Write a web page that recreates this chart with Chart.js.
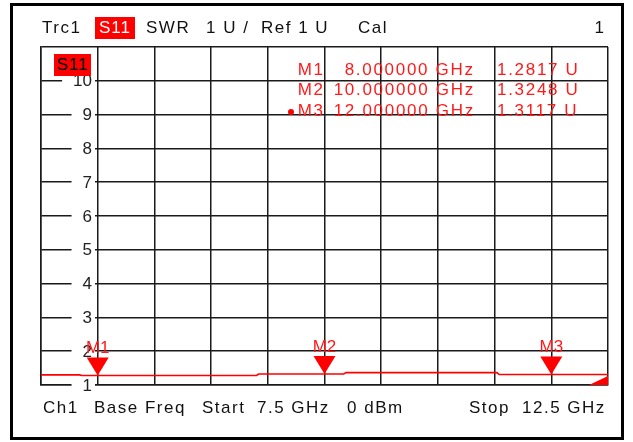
<!DOCTYPE html>
<html>
<head>
<meta charset="utf-8">
<script src="https://cdn.jsdelivr.net/npm/chart.js@4.4.1/dist/chart.umd.min.js"></script>
<style>
  html, body { margin: 0; padding: 0; background: #fff; }
  #wrap { position: relative; width: 633px; height: 442px; overflow: hidden; font-family: "Liberation Sans", Arial, sans-serif; }
  #frame { position: absolute; left: 10px; top: 3px; width: 608px; height: 431px; border: 3px solid #000; }
  canvas { position: absolute; left: 0; top: 0; }
  .t { position: absolute; font-size: 17px; line-height: 20px; letter-spacing: 1.5px; color: #111; white-space: pre; }
  .r { color: #ff1a1a; letter-spacing: 1.7px; }
  .box { position: absolute; background: #ff0000; font-size: 17px; line-height: 22px; text-align: center; letter-spacing: 1px; white-space: pre; }
</style>
</head>
<body>
<div id="wrap">
  <div id="frame"></div>
  <canvas id="c" width="633" height="442"></canvas>
  <div id="overlay"></div>
</div>
<script>
// ---- data ----
const freqGHz = [7.5, 7.84, 7.86, 8.0, 9.40, 9.42, 10.0, 10.17, 10.19, 11.52, 11.54, 12.0, 12.5];
const swrValues = [1.30, 1.30, 1.28, 1.2817, 1.28, 1.325, 1.3248, 1.325, 1.365, 1.365, 1.31, 1.3117, 1.31];
const markerNames = ["M1", "M2", "M3"];
const markerFreq = [8.0, 10.0, 12.0];
const markerVal = [1.2817, 1.3248, 1.3117];
const yTickValues = [1, 2, 3, 4, 5, 6, 7, 8, 9, 10];
const headerTexts = ["Trc1", "SWR", "1 U /", "Ref 1 U", "Cal", "1"];
const footerTexts = ["Ch1", "Base Freq", "Start", "7.5 GHz", "0 dBm", "Stop", "12.5 GHz"];
const traceName = "S11";

const FONT = '17px "Liberation Sans", Arial, sans-serif';

// ---- html texts ----
const ov = document.getElementById('overlay');
function addText(txt, x, yc, cls, align) {
  const d = document.createElement('div');
  d.className = 't' + (cls ? ' ' + cls : '');
  d.textContent = txt;
  d.style.top = (yc - 10) + 'px';
  ov.appendChild(d);
  if (align === 'right') {
    const ls = parseFloat(getComputedStyle(d).letterSpacing) || 0;
    d.style.left = (x - d.offsetWidth + ls) + 'px';
  } else {
    d.style.left = x + 'px';
  }
  return d;
}
function addBox(txt, x, y, w, h, color) {
  const d = document.createElement('div');
  d.className = 'box';
  d.textContent = txt;
  d.style.left = x + 'px'; d.style.top = y + 'px';
  d.style.width = w + 'px'; d.style.height = h + 'px';
  d.style.color = color;
  ov.appendChild(d);
}
// header
addText(headerTexts[0], 42, 28);
addBox(traceName, 95, 17, 40, 22, '#fff');
addText(headerTexts[1], 146, 28);
addText(headerTexts[2], 206, 28);
addText(headerTexts[3], 261, 28);
addText(headerTexts[4], 358, 28);
addText(headerTexts[5], 604, 28, '', 'right');
// footer
const footX = [43, 94, 202, 257, 347, 469, 522];
footerTexts.forEach((t, i) => addText(t, footX[i], 408));
// trace badge inside plot
addBox(traceName, 54, 54, 37, 22, '#000');
// marker table
const rowY = [70, 90, 111];
markerNames.forEach((n, i) => {
  addText(n, 323, rowY[i], 'r', 'right');
  addText(markerFreq[i].toFixed(6) + ' GHz', 473, rowY[i], 'r', 'right');
  addText(markerVal[i].toFixed(4) + ' U', 497, rowY[i], 'r');
});

// ---- plugin for tick labels, markers ----
const deco = {
  id: 'deco',
  afterDatasetsDraw(chart) {
    const ctx = chart.ctx;
    const xs = chart.scales.x, ys = chart.scales.y;
    const area = chart.chartArea;
    ctx.save();
    // y tick labels inside plot, with gap in grid line
    ctx.font = FONT;
    ctx.textAlign = 'right';
    ctx.textBaseline = 'middle';
    ys.ticks.forEach(t => {
      if (!yTickValues.includes(t.value)) return;
      const y = ys.getPixelForValue(t.value);
      const label = String(t.value);
      const w = ctx.measureText(label).width;
      const xr = area.left + 51;
      ctx.fillStyle = '#fff';
      ctx.fillRect(xr - w - 11, y - 2, w + 14, 4);
      ctx.fillStyle = '#222';
      ctx.fillText(label, xr, y + 1);
    });
    // markers
    markerFreq.forEach((f, i) => {
      const x = xs.getPixelForValue(f);
      const y = ys.getPixelForValue(markerVal[i]);
      ctx.fillStyle = '#ff0000';
      ctx.beginPath();
      ctx.moveTo(x - 11, y - 18);
      ctx.lineTo(x + 11, y - 18);
      ctx.lineTo(x, y);
      ctx.closePath();
      ctx.fill();
      ctx.textAlign = 'center';
      ctx.fillStyle = '#ff1a1a';
      ctx.fillText(markerNames[i], x, y - 27);
    });
    // active marker dot in table
    ctx.beginPath();
    ctx.arc(291, rowY[2] + 1, 3, 0, Math.PI * 2);
    ctx.fillStyle = '#ff0000';
    ctx.fill();
    // corner indicator
    ctx.beginPath();
    ctx.moveTo(area.right - 19, area.bottom);
    ctx.lineTo(area.right, area.bottom);
    ctx.lineTo(area.right, area.bottom - 9);
    ctx.closePath();
    ctx.fill();
    ctx.restore();
  }
};

new Chart(document.getElementById('c'), {
  type: 'line',
  data: {
    datasets: [{
      label: traceName,
      data: freqGHz.map((f, i) => ({ x: f, y: swrValues[i] })),
      borderColor: '#ff0000',
      borderWidth: 1.6,
      pointRadius: 0,
      tension: 0,
      fill: false
    }]
  },
  options: {
    responsive: false,
    animation: false,
    devicePixelRatio: 1,
    layout: { padding: { left: 41, top: 47, right: 25, bottom: 57 } },
    plugins: { legend: { display: false }, tooltip: { enabled: false } },
    scales: {
      x: {
        type: 'linear', min: 7.5, max: 12.5,
        ticks: { display: false, stepSize: 0.5 },
        grid: { color: '#1a1a1a', lineWidth: 1.5, drawTicks: false },
        border: { display: true, color: '#1a1a1a', width: 1.5 },
        afterFit(s) { s.height = 0; }
      },
      y: {
        type: 'linear', min: 1, max: 11,
        ticks: { display: false, stepSize: 1 },
        grid: { color: '#1a1a1a', lineWidth: 1.5, drawTicks: false },
        border: { display: true, color: '#1a1a1a', width: 1.5 },
        afterFit(s) { s.width = 0; }
      }
    }
  },
  plugins: [deco]
});
</script>
</body>
</html>
